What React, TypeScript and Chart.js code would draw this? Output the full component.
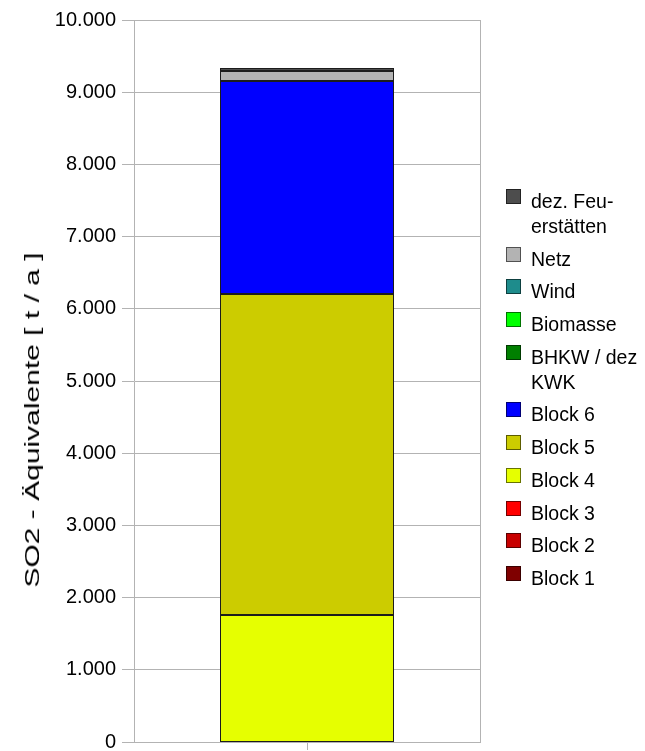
import React, { useEffect, useRef } from "react";
import { Chart, registerables } from "chart.js";

Chart.register(...registerables);

const categories = [""];
const seriesNames = [
  "Block 1",
  "Block 2",
  "Block 3",
  "Block 4",
  "Block 5",
  "Block 6",
  "BHKW / dez KWK",
  "Biomasse",
  "Wind",
  "Netz",
  "dez. Feu\u00ADerstätten",
];
const block1 = [0];
const block2 = [0];
const block3 = [0];
const block4 = [1760];
const block5 = [4440];
const block6 = [2955];
const bhkw = [0];
const biomasse = [0];
const wind = [0];
const netz = [135];
const dezFeuerstaetten = [40];
const seriesValues = [block1, block2, block3, block4, block5, block6, bhkw, biomasse, wind, netz, dezFeuerstaetten];
const seriesColors = [
  "#7f0000",
  "#c80000",
  "#ff0000",
  "#e6ff00",
  "#cccc00",
  "#0000ff",
  "#007f00",
  "#00ff00",
  "#1e8c8c",
  "#b3b3b3",
  "#4d4d4d",
];
const yMin = 0;
const yMax = 10000;
const yStep = 1000;
const yTitle = "SO2 - Äquivalente [ t / a ]";

const FONT = "'Liberation Sans', Arial, sans-serif";
const GRID = "#b3b3b3";

const fmt = (v: number) => String(v).replace(/\B(?=(\d{3})+(?!\d))/g, ".");

const borderPlugin = {
  id: "frameAndOutlines",
  beforeDatasetsDraw(chart: any) {
    const { ctx, chartArea } = chart;
    ctx.save();
    ctx.strokeStyle = GRID;
    ctx.lineWidth = 1;
    const x = Math.round(chartArea.right) + 0.5;
    ctx.beginPath();
    ctx.moveTo(x, chartArea.top);
    ctx.lineTo(x, chartArea.bottom);
    ctx.stroke();
    ctx.restore();
  },
  afterDatasetsDraw(chart: any) {
    const { ctx } = chart;
    ctx.save();
    ctx.strokeStyle = "#1c1c1c";
    ctx.lineWidth = 1;
    chart.data.datasets.forEach((_: any, di: number) => {
      const meta = chart.getDatasetMeta(di);
      if (!chart.isDatasetVisible(di)) return;
      meta.data.forEach((el: any) => {
        const p = el.getProps(["x", "y", "base", "width"], true);
        if (Math.abs(p.base - p.y) < 0.5) return;
        const left = Math.round(p.x - p.width / 2);
        const right = Math.round(p.x + p.width / 2);
        const top = Math.round(Math.min(p.y, p.base));
        const bottom = Math.round(Math.max(p.y, p.base));
        ctx.strokeRect(left + 0.5, top + 0.5, right - left - 1, Math.max(bottom - top - 1, 0));
      });
    });
    ctx.restore();
  },
};

export default function App() {
  const ref = useRef<HTMLCanvasElement | null>(null);

  useEffect(() => {
    if (!ref.current) return;
    const chart = new Chart(ref.current, {
      type: "bar",
      data: {
        labels: categories,
        datasets: seriesNames.map((name, i) => ({
          label: name,
          data: seriesValues[i],
          backgroundColor: seriesColors[i],
          borderWidth: 0,
          inflateAmount: 0,
          barThickness: 174,
        })),
      },
      options: {
        responsive: false,
        animation: false,
        layout: { padding: { left: 0, right: 165, top: 20, bottom: 0 } },
        plugins: {
          legend: { display: false },
          tooltip: { enabled: false },
          title: { display: false },
        },
        scales: {
          x: {
            stacked: true,
            grid: {
              offset: false,
              drawOnChartArea: false,
              drawTicks: true,
              tickLength: 8,
              color: GRID,
            },
            border: { display: true, color: GRID },
            ticks: { display: false },
            afterFit(scale: any) {
              scale.height = 9;
            },
          },
          y: {
            stacked: true,
            min: yMin,
            max: yMax,
            ticks: {
              stepSize: yStep,
              padding: 6,
              color: "#000",
              font: { family: FONT, size: 20 },
              callback: (v: any) => fmt(Number(v)),
            },
            grid: { color: GRID, tickLength: 12, lineWidth: 1 },
            border: { display: true, color: GRID },
            afterFit(scale: any) {
              scale.width = 134;
              scale.paddingTop = 0;
              scale.paddingBottom = 0;
            },
          },
        },
      },
      plugins: [borderPlugin],
    });
    return () => chart.destroy();
  }, []);

  const legendOrder = seriesNames.map((_, i) => i).reverse();

  return (
    <div style={{ position: "fixed", left: 0, top: 0, width: 645, height: 751, background: "#fff", fontFamily: FONT }}>
      <canvas ref={ref} width={645} height={751} style={{ width: 645, height: 751, display: "block" }} />
      <div
        style={{
          position: "absolute",
          left: 32,
          top: 420,
          transform: "translate(-50%, -50%) rotate(-90deg) scaleX(1.5)",
          fontSize: 20,
          lineHeight: "20px",
          whiteSpace: "nowrap",
          color: "#000",
        }}
      >
        {yTitle}
      </div>
      <div style={{ position: "absolute", left: 506, top: 189, width: 139 }}>
        {legendOrder.map((i) => (
          <div key={i} style={{ position: "relative", paddingLeft: 25, marginBottom: 7.7, fontSize: 19.5, lineHeight: "25px", color: "#000" }}>
            <span
              style={{
                position: "absolute",
                left: 0,
                top: 0,
                width: 13,
                height: 13,
                background: seriesColors[i],
                border: "1px solid rgba(0,0,0,0.55)",
              }}
            />
            <div style={{ maxWidth: 112 }}>{seriesNames[i]}</div>
          </div>
        ))}
      </div>
    </div>
  );
}
